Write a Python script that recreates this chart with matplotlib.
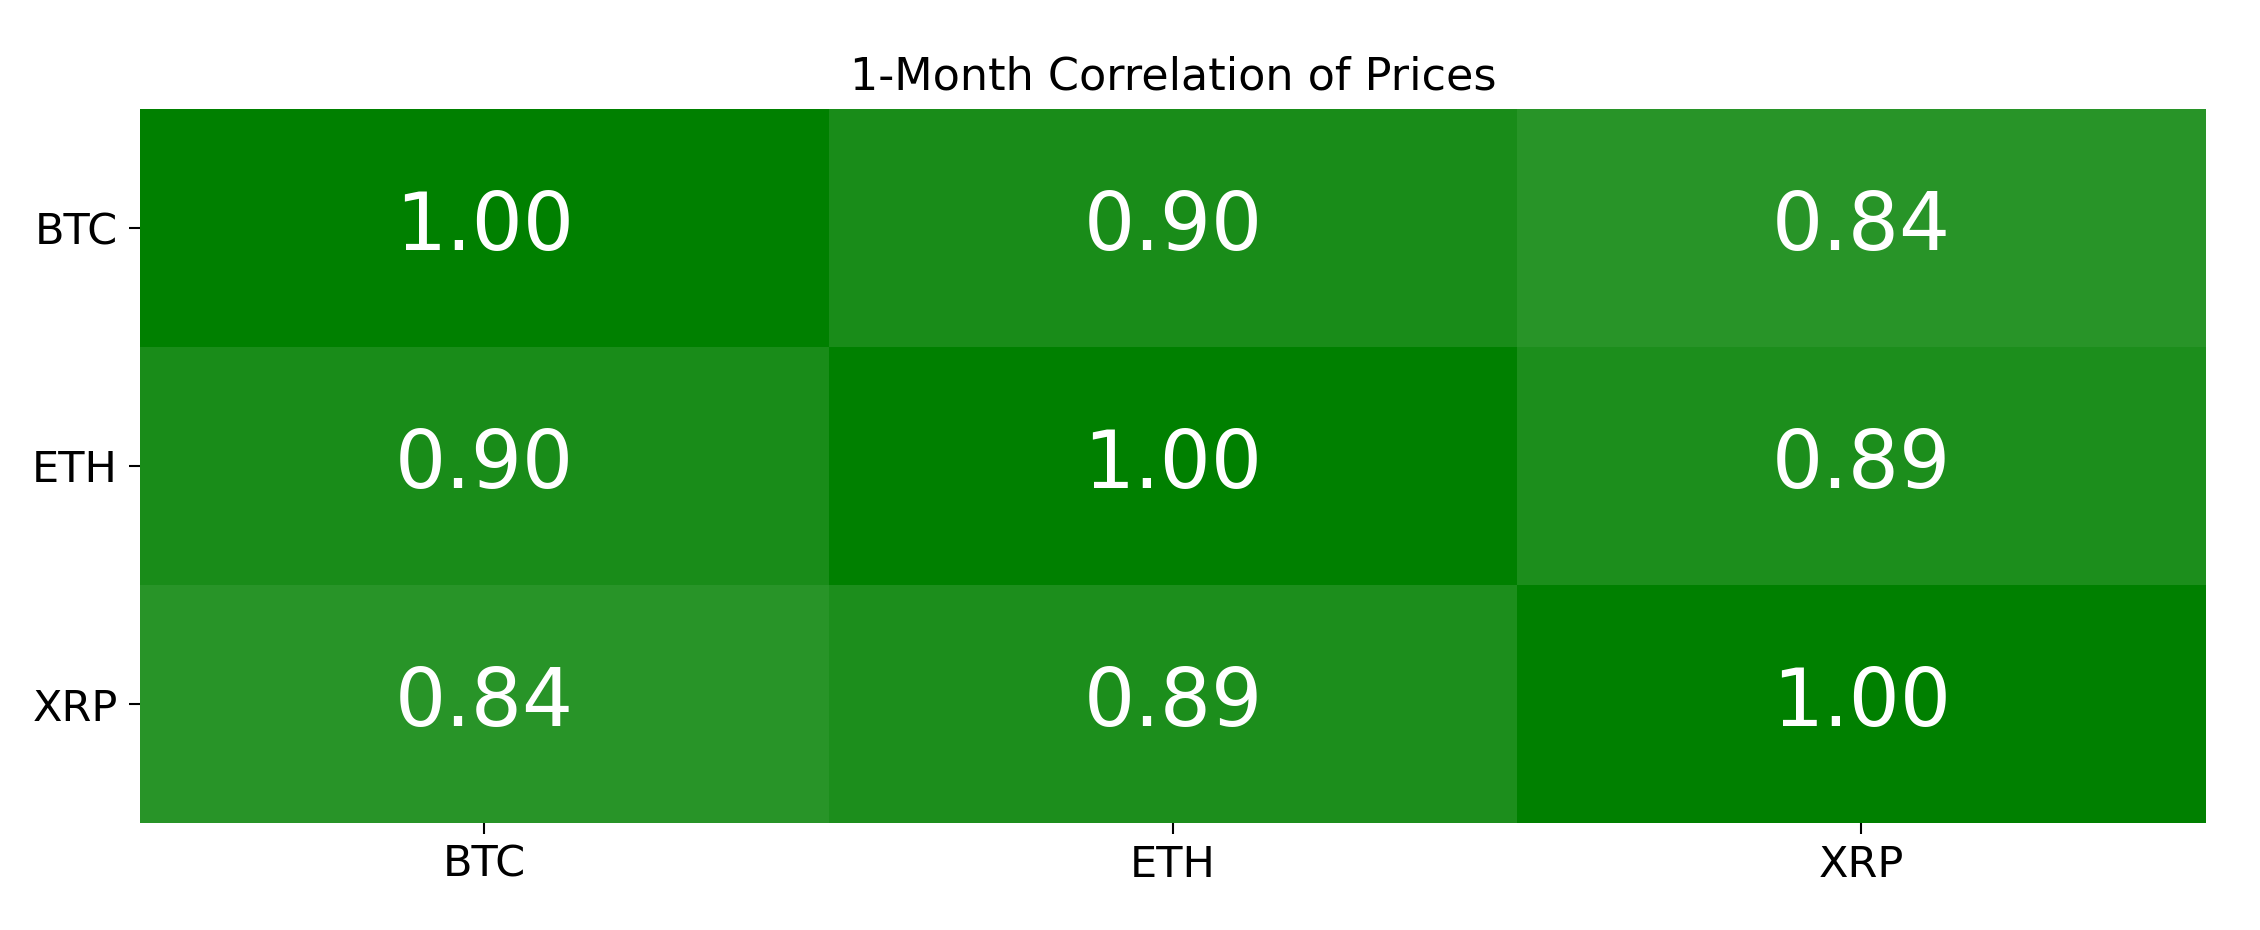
import numpy as np
import matplotlib.pyplot as plt
from matplotlib.colors import LinearSegmentedColormap

# Datos de la matriz de correlación
monedas = ["BTC", "ETH", "XRP"]
fila_btc = [1.00, 0.90, 0.84]
fila_eth = [0.90, 1.00, 0.89]
fila_xrp = [0.84, 0.89, 1.00]

matriz = np.array([fila_btc, fila_eth, fila_xrp])

# Mapa de colores de blanco a verde
cmap = LinearSegmentedColormap.from_list("verde", ["white", "green"])

fig = plt.figure(figsize=(22.6, 9.3), dpi=100)
ax = fig.add_axes([0.062, 0.115, 0.914, 0.768])

ax.pcolormesh(matriz, cmap=cmap, vmin=0, vmax=1)
ax.set_xlim(0, 3)
ax.set_ylim(3, 0)

for i in range(len(monedas)):
    for j in range(len(monedas)):
        ax.text(j + 0.5, i + 0.5, f"{matriz[i, j]:.2f}", ha="center", va="center",
                color="white", fontsize=58)

ax.set_xticks(np.arange(len(monedas)) + 0.5)
ax.set_yticks(np.arange(len(monedas)) + 0.5)
ax.set_xticklabels(monedas, fontsize=31)
ax.set_yticklabels(monedas, fontsize=31, rotation=0)
ax.tick_params(length=8, width=1.5)
ax.tick_params(axis="x", pad=7)
ax.tick_params(axis="y", pad=8)
for lado in ax.spines.values():
    lado.set_visible(False)

ax.set_title("1-Month Correlation of Prices", fontsize=32, pad=14)

fig.savefig("out.png")
